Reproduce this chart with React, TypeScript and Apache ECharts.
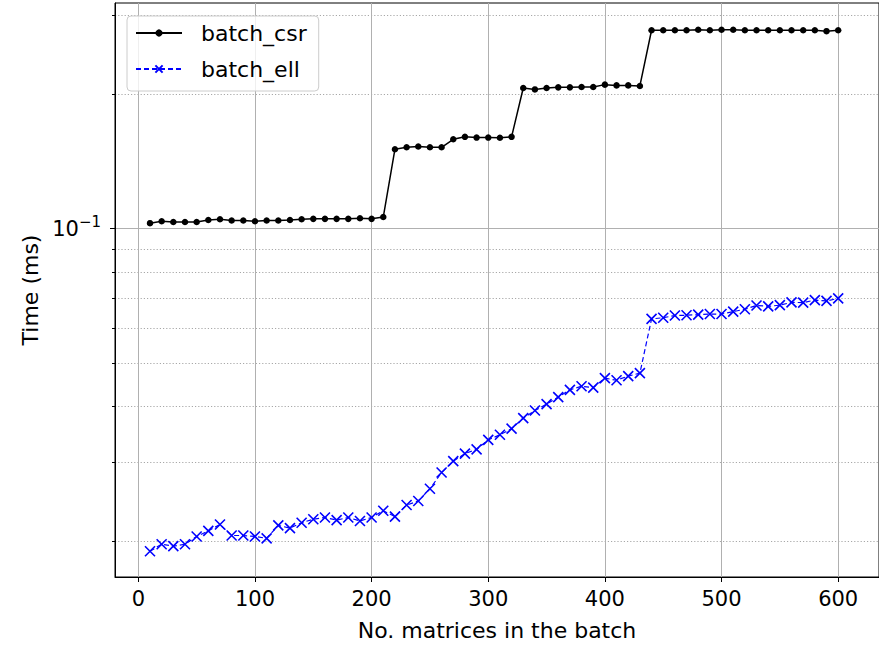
import React, { useEffect, useRef } from "react";
import * as echarts from "echarts";

const batchSizes = [
  10, 20, 30, 40, 50, 60, 70, 80, 90, 100, 110, 120, 130, 140, 150, 160, 170, 180, 190, 200,
  210, 220, 230, 240, 250, 260, 270, 280, 290, 300, 310, 320, 330, 340, 350, 360, 370, 380, 390, 400,
  410, 420, 430, 440, 450, 460, 470, 480, 490, 500, 510, 520, 530, 540, 550, 560, 570, 580, 590, 600,
];

const csrTimes = [
  0.1028, 0.1038, 0.1034, 0.1034, 0.1034, 0.1045, 0.1049, 0.1042, 0.1042, 0.1038,
  0.1042, 0.1042, 0.1045, 0.1049, 0.1051, 0.1051, 0.1051, 0.1051, 0.1054, 0.1051,
  0.1061, 0.1504, 0.1519, 0.1525, 0.1519, 0.1519, 0.1583, 0.1603, 0.1597, 0.1597,
  0.1595, 0.1603, 0.2061, 0.2046, 0.2061, 0.2068, 0.2068, 0.2072, 0.2072, 0.2097,
  0.2089, 0.2089, 0.2083, 0.2774, 0.2774, 0.2774, 0.2774, 0.2782, 0.2774, 0.2782,
  0.2782, 0.2774, 0.2774, 0.2774, 0.2774, 0.2774, 0.2774, 0.2774, 0.2761, 0.2774,
];

const ellTimes = [
  0.0190, 0.0197, 0.0195, 0.0197, 0.0205, 0.0211, 0.0218, 0.0206, 0.0206, 0.0205,
  0.0203, 0.0217, 0.0214, 0.0220, 0.0224, 0.0226, 0.0223, 0.0226, 0.0222, 0.0226,
  0.0234, 0.0227, 0.0241, 0.0246, 0.0262, 0.0285, 0.0302, 0.0314, 0.0321, 0.0337,
  0.0346, 0.0357, 0.0377, 0.0392, 0.0405, 0.0420, 0.0436, 0.0444, 0.0441, 0.0463,
  0.0458, 0.0468, 0.0475, 0.0628, 0.0632, 0.0639, 0.0640, 0.0642, 0.0644, 0.0644,
  0.0652, 0.0660, 0.0673, 0.0670, 0.0674, 0.0684, 0.0683, 0.0692, 0.0689, 0.0698,
];

const seriesNames = ["batch_csr", "batch_ell"];
const xTicks = [0, 100, 200, 300, 400, 500, 600];
const yMajorTicks = [0.1];
const yMinorTicks = [0.02, 0.03, 0.04, 0.05, 0.06, 0.07, 0.08, 0.09, 0.2, 0.3];

const FONT = "DejaVu Sans";
const Y_MIN = 0.01664;
const Y_MAX = 0.3192;

export default function App() {
  const ref = useRef<HTMLDivElement>(null);

  useEffect(() => {
    if (!ref.current) return;
    const chart = echarts.init(ref.current, undefined, { renderer: "svg" });
    const option: any = {
      animation: false,
      backgroundColor: "#ffffff",
      textStyle: { fontFamily: FONT },
      grid: {
        left: 115,
        top: 3,
        width: 767,
        height: 576,
        show: true,
        borderColor: "#000000",
        borderWidth: 1,
        backgroundColor: "transparent",
      },
      legend: {
        orient: "vertical",
        left: 127,
        top: 16,
        padding: [6, 12, 11, 8],
        itemWidth: 46,
        itemHeight: 9,
        itemGap: 14,
        backgroundColor: "rgba(255,255,255,0.8)",
        borderColor: "#cccccc",
        borderWidth: 1,
        borderRadius: 4,
        textStyle: { fontSize: 22, color: "#000000", fontFamily: FONT, padding: [0, 0, 0, 14] },
        data: seriesNames,
      },
      xAxis: {
        type: "value",
        min: -20,
        max: 635,
        name: "No. matrices in the batch",
        nameLocation: "middle",
        nameGap: 42,
        nameTextStyle: { fontSize: 22, color: "#000000", fontFamily: FONT },
        axisLine: { show: true, onZero: false, lineStyle: { color: "#000000", width: 1 } },
        axisTick: { show: true, length: 5, customValues: xTicks, lineStyle: { color: "#000000", width: 1 } },
        axisLabel: { customValues: xTicks, fontSize: 21, color: "#000000", margin: 11, fontFamily: FONT },
        splitLine: { show: true, lineStyle: { color: "#b0b0b0", width: 1 } },
      },
      yAxis: [
        {
          type: "log",
          position: "left",
          min: Y_MIN,
          max: Y_MAX,
          name: "Time (ms)",
          nameLocation: "middle",
          nameGap: 72,
          nameTextStyle: { fontSize: 22, color: "#000000", fontFamily: FONT },
          axisLine: { show: true, onZero: false, lineStyle: { color: "#000000", width: 1 } },
          axisTick: { show: true, length: 5, customValues: yMajorTicks, lineStyle: { color: "#000000", width: 1 } },
          axisLabel: {
            customValues: yMajorTicks,
            margin: 14,
            color: "#000000",
            formatter: () => "{b|10}{s|\u22121}",
            rich: {
              b: { fontSize: 21, color: "#000000", fontFamily: FONT },
              s: { fontSize: 15, color: "#000000", fontFamily: FONT, padding: [0, 0, 14, 0] },
            },
          },
          splitLine: { show: true, lineStyle: { color: "#b0b0b0", width: 1 } },
        },
        {
          type: "log",
          position: "left",
          min: Y_MIN,
          max: Y_MAX,
          axisLine: { show: false, onZero: false },
          axisTick: { show: true, length: 3, customValues: yMinorTicks, lineStyle: { color: "#000000", width: 1 } },
          axisLabel: { show: false },
          splitLine: { show: true, lineStyle: { color: "#a8a8a8", width: 1, type: [1.2, 2] } },
        },
      ],
      series: [
        {
          name: seriesNames[0],
          type: "line",
          data: batchSizes.map((x, i) => [x, csrTimes[i]]),
          symbol: "circle",
          symbolSize: 6.5,
          color: "#000000",
          lineStyle: { color: "#000000", width: 1.5 },
          itemStyle: { color: "#000000" },
          z: 3,
        },
        {
          name: seriesNames[1],
          type: "line",
          data: batchSizes.map((x, i) => [x, ellTimes[i]]),
          symbol: "path://M0,0L10,10M0,10L10,0",
          symbolSize: 10,
          color: "#0000ff",
          lineStyle: { color: "#0000ff", width: 1.2, type: [5, 3] },
          itemStyle: { color: "rgba(0,0,0,0)", borderColor: "#0000ff", borderWidth: 1.6 },
          z: 3,
        },
      ],
    };
    chart.setOption(option);
    return () => chart.dispose();
  }, []);

  return (
    <div
      ref={ref}
      style={{ position: "absolute", left: 0, top: 0, width: 879, height: 646, background: "#fff" }}
    />
  );
}
